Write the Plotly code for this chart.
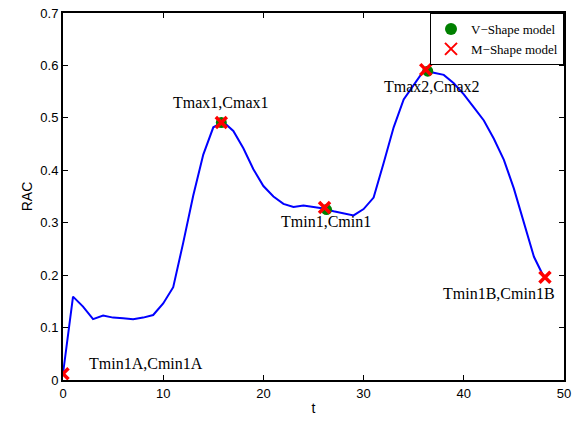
import plotly.graph_objects as go

# curve data
t = list(range(0, 49))
rac = [0.012, 0.159, 0.140, 0.116, 0.123, 0.119, 0.118, 0.116, 0.119, 0.124,
       0.146, 0.177, 0.262, 0.352, 0.430, 0.482, 0.492, 0.475, 0.442, 0.402,
       0.370, 0.350, 0.336, 0.330, 0.333, 0.330, 0.327, 0.322, 0.318, 0.314,
       0.326, 0.348, 0.414, 0.482, 0.535, 0.563, 0.590, 0.586, 0.582, 0.566,
       0.545, 0.520, 0.495, 0.460, 0.420, 0.365, 0.300, 0.235, 0.196]

# V-shape model points
v_t = [15.8, 26.3, 36.4]
v_c = [0.491, 0.325, 0.589]

# M-shape model points
m_t = [0.0, 15.8, 26.1, 36.2, 48.1]
m_c = [0.012, 0.491, 0.329, 0.592, 0.196]

# annotation labels
labels = ["Tmin1A,Cmin1A", "Tmax1,Cmax1", "Tmin1,Cmin1", "Tmax2,Cmax2", "Tmin1B,Cmin1B"]
label_t = [8.3, 15.8, 26.2, 36.8, 43.5]
label_c = [0.032, 0.530, 0.302, 0.560, 0.165]

x_ticks = [0, 10, 20, 30, 40, 50]
y_ticks = [0, 0.1, 0.2, 0.3, 0.4, 0.5, 0.6, 0.7]
y_tick_text = ["0", "0.1", "0.2", "0.3", "0.4", "0.5", "0.6", "0.7"]

fig = go.Figure()
fig.add_trace(go.Scatter(x=t, y=rac, mode="lines",
                         line=dict(color="#0000ff", width=2), showlegend=False))
fig.add_trace(go.Scatter(x=v_t, y=v_c, mode="markers", name="V\u2212Shape model",
                         marker=dict(symbol="circle", color="#008000", size=11)))
fig.add_trace(go.Scatter(x=m_t, y=m_c, mode="markers", name="M\u2212Shape model",
                         marker=dict(symbol="x-thin", color="#ff0000", size=11,
                                     line=dict(width=3.5, color="#ff0000"))))

for txt, xx, yy in zip(labels, label_t, label_c):
    fig.add_annotation(x=xx, y=yy, text=txt, showarrow=False,
                       xanchor="center", yanchor="middle",
                       font=dict(family="Liberation Serif", size=16, color="#000000"))

axis_common = dict(showgrid=False, zeroline=False, showline=True, linecolor="#000000",
                   linewidth=2, mirror="ticks", ticks="inside", ticklen=5,
                   tickcolor="#000000", tickwidth=1, ticklabeloverflow="allow",
                   tickfont=dict(family="Liberation Sans", size=13, color="#000000"))

fig.update_xaxes(range=[0, 50.0001], tickvals=x_ticks, **axis_common,
                 title=dict(text="t", standoff=4,
                            font=dict(family="Liberation Sans", size=14, color="#000000")))
fig.update_yaxes(range=[0, 0.70001], tickvals=y_ticks, ticktext=y_tick_text, **axis_common,
                 title=dict(text="RAC", standoff=4,
                            font=dict(family="Liberation Sans", size=14, color="#000000")))

fig.update_layout(
    width=586, height=421,
    margin=dict(l=63, r=22, t=6, b=41),
    plot_bgcolor="#ffffff", paper_bgcolor="#ffffff",
    legend=dict(x=1, y=1, xanchor="right", yanchor="top",
                bgcolor="#ffffff", bordercolor="#000000", borderwidth=1,
                font=dict(family="Liberation Serif", size=13, color="#000000"),
                tracegroupgap=0, itemsizing="constant"),
)

fig.write_html("out.html")
